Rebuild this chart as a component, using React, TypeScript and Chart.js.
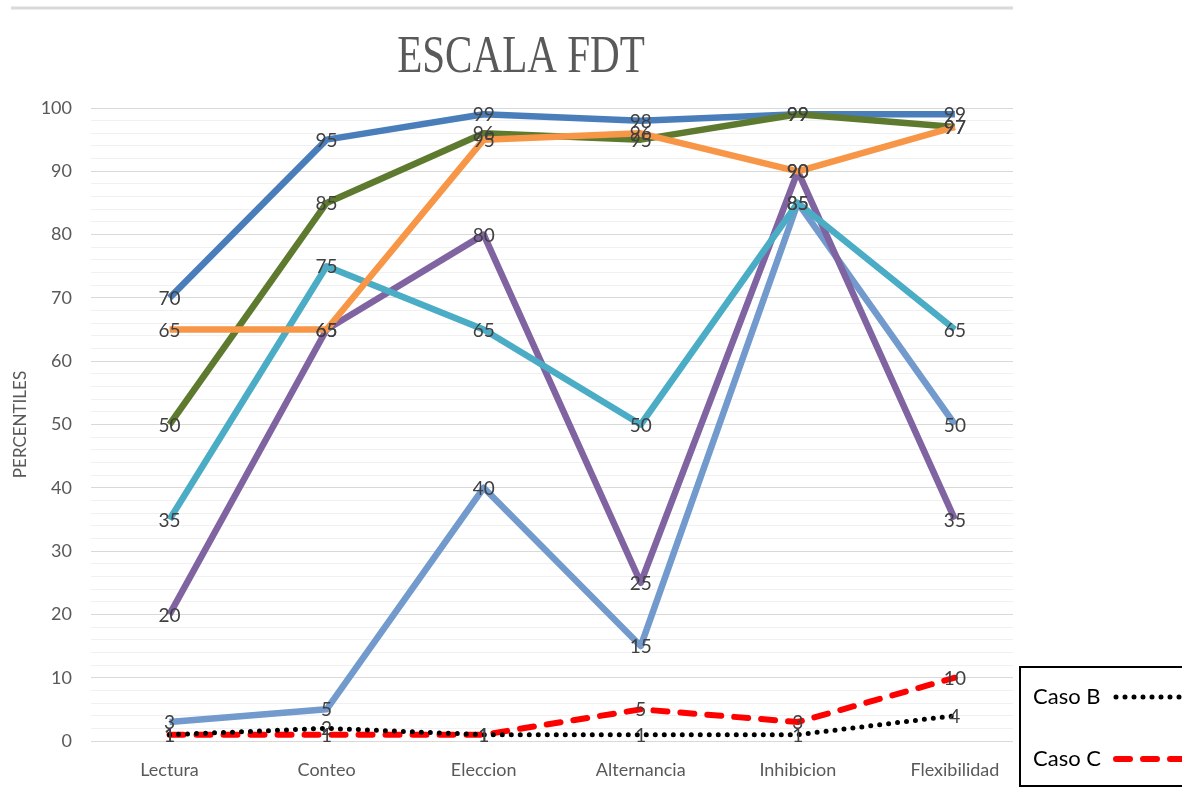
import React, { useEffect, useRef } from 'react';
import { Chart, registerables } from 'chart.js';

Chart.register(...registerables);

const TITLE = 'ESCALA FDT';
const Y_TITLE = 'PERCENTILES';
const categories = ['Lectura', 'Conteo', 'Eleccion', 'Alternancia', 'Inhibicion', 'Flexibilidad'];
const yTickLabels = [0, 10, 20, 30, 40, 50, 60, 70, 80, 90, 100];

const casoA = [70, 95, 99, 98, 99, 99];
const casoD = [65, 65, 95, 96, 90, 97];
const casoE = [50, 85, 96, 95, 99, 97];
const casoF = [35, 75, 65, 50, 85, 65];
const casoG = [20, 65, 80, 25, 90, 35];
const casoH = [3, 5, 40, 15, 85, 50];
const casoB = [1, 2, 1, 1, 1, 4];
const casoC = [1, 1, 1, 5, 3, 10];

const legendSeries = ['Caso B', 'Caso C'];

const FONT = 'Lato';

const toPoints = (arr: number[]) => arr.map((v, i) => ({ x: i, y: v }));

const valueLabels = {
  id: 'valueLabels',
  afterDatasetsDraw(chart: any) {
    const ctx = chart.ctx;
    ctx.save();
    ctx.font = `19px ${FONT}`;
    ctx.fillStyle = '#404040';
    ctx.textAlign = 'center';
    ctx.textBaseline = 'middle';
    for (let i = chart.data.datasets.length - 1; i >= 0; i--) {
      const ds = chart.data.datasets[i];
      const meta = chart.getDatasetMeta(i);
      meta.data.forEach((pt: any, j: number) => {
        const v = (ds.data[j] as any).y;
        ctx.fillText(String(v), pt.x, pt.y + 1);
      });
    }
    ctx.restore();
  },
};

const decorations = {
  id: 'decorations',
  beforeDraw(chart: any) {
    const ctx = chart.ctx;
    ctx.save();
    ctx.strokeStyle = '#d9d9d9';
    ctx.lineWidth = 3;
    ctx.beginPath();
    ctx.moveTo(11, 8);
    ctx.lineTo(chart.chartArea.right, 8);
    ctx.stroke();
    ctx.restore();
  },
  afterDraw(chart: any) {
    const ctx = chart.ctx;
    // title
    ctx.save();
    ctx.fillStyle = '#595959';
    ctx.font = '52px "Liberation Serif"';
    ctx.textAlign = 'center';
    ctx.textBaseline = 'alphabetic';
    ctx.translate(521, 72);
    ctx.scale(0.79, 1);
    ctx.fillText(TITLE, 0, 0);
    ctx.restore();

    // legend
    const items = Chart.defaults.plugins.legend.labels
      .generateLabels(chart)
      .filter((it: any) => legendSeries.includes(it.text));
    ctx.save();
    ctx.fillStyle = '#ffffff';
    ctx.fillRect(1020, 667, 200, 119);
    ctx.strokeStyle = '#000000';
    ctx.lineWidth = 2;
    ctx.strokeRect(1020, 667, 200, 119);
    items.forEach((it: any, k: number) => {
      const y = 697 + k * 62;
      ctx.setLineDash([]);
      ctx.fillStyle = '#000000';
      ctx.font = `22px ${FONT}`;
      ctx.textAlign = 'left';
      ctx.textBaseline = 'middle';
      ctx.fillText(it.text, 1033, y);
      ctx.strokeStyle = it.strokeStyle;
      ctx.lineWidth = it.lineWidth;
      ctx.lineCap = it.lineCap || 'butt';
      ctx.setLineDash(it.lineDash || []);
      ctx.beginPath();
      ctx.moveTo(1116, y);
      ctx.lineTo(1200, y);
      ctx.stroke();
    });
    ctx.restore();
  },
};

export default function App() {
  const ref = useRef<HTMLCanvasElement | null>(null);

  useEffect(() => {
    if (!ref.current) return;
    const base = {
      pointRadius: 0,
      pointHoverRadius: 0,
      tension: 0,
      borderJoinStyle: 'round' as const,
      fill: false,
    };
    const chart = new Chart(ref.current, {
      type: 'line',
      data: {
        datasets: [
          { ...base, label: 'Caso D', data: toPoints(casoD), borderColor: '#F79646', backgroundColor: '#F79646', borderWidth: 6.5 },
          { ...base, label: 'Caso E', data: toPoints(casoE), borderColor: '#5E7A2E', backgroundColor: '#5E7A2E', borderWidth: 6.5 },
          { ...base, label: 'Caso A', data: toPoints(casoA), borderColor: '#4A7EBB', backgroundColor: '#4A7EBB', borderWidth: 6.5 },
          { ...base, label: 'Caso F', data: toPoints(casoF), borderColor: '#4BACC6', backgroundColor: '#4BACC6', borderWidth: 6.5 },
          { ...base, label: 'Caso G', data: toPoints(casoG), borderColor: '#8064A2', backgroundColor: '#8064A2', borderWidth: 6.5 },
          { ...base, label: 'Caso H', data: toPoints(casoH), borderColor: '#729ACD', backgroundColor: '#729ACD', borderWidth: 6.5 },
          { ...base, label: 'Caso B', data: toPoints(casoB), borderColor: '#000000', backgroundColor: '#000000', borderWidth: 5, borderDash: [0, 9], borderCapStyle: 'round' as const },
          { ...base, label: 'Caso C', data: toPoints(casoC), borderColor: '#FF0000', backgroundColor: '#FF0000', borderWidth: 6, borderDash: [14, 13], borderCapStyle: 'round' as const },
        ],
      },
      options: {
        animation: false,
        responsive: false,
        maintainAspectRatio: false,
        layout: { padding: { left: 0, top: 108, right: 169, bottom: 0 } },
        plugins: {
          legend: { display: false },
          title: { display: false },
          tooltip: { enabled: false },
        },
        scales: {
          x: {
            type: 'linear',
            min: -0.5,
            max: 5.37,
            afterBuildTicks: (scale: any) => {
              scale.ticks = categories.map((_, i) => ({ value: i }));
            },
            afterFit: (scale: any) => {
              scale.height = 52;
            },
            ticks: {
              autoSkip: false,
              maxRotation: 0,
              padding: 10,
              color: '#595959',
              font: { family: FONT, size: 18 },
              callback: (v: any) => categories[Math.round(Number(v))] ?? '',
            },
            grid: { display: false },
            border: { display: false },
          },
          y: {
            min: 0,
            max: 100,
            afterFit: (scale: any) => {
              scale.width = 91;
            },
            ticks: {
              stepSize: 2,
              maxTicksLimit: 60,
              autoSkip: false,
              padding: 19,
              color: '#595959',
              font: { family: FONT, size: 18 },
              callback: (v: any) => (yTickLabels.includes(Math.round(Number(v))) ? String(Math.round(Number(v))) : ''),
            },
            grid: {
              drawTicks: false,
              lineWidth: 1,
              color: (c: any) => (c.tick && Math.round(c.tick.value) % 10 === 0 ? '#d9d9d9' : '#f0f0f0'),
            },
            border: { display: false },
            title: {
              display: true,
              text: Y_TITLE,
              color: '#595959',
              font: { family: FONT, size: 17 },
              padding: { top: 10, bottom: 0 },
            },
          },
        },
      },
      plugins: [valueLabels, decorations],
    });
    return () => chart.destroy();
  }, []);

  return (
    <div style={{ position: 'absolute', left: 0, top: 0, width: 1182, height: 793, background: '#ffffff' }}>
      <canvas ref={ref} width={1182} height={793} style={{ display: 'block' }} />
    </div>
  );
}
